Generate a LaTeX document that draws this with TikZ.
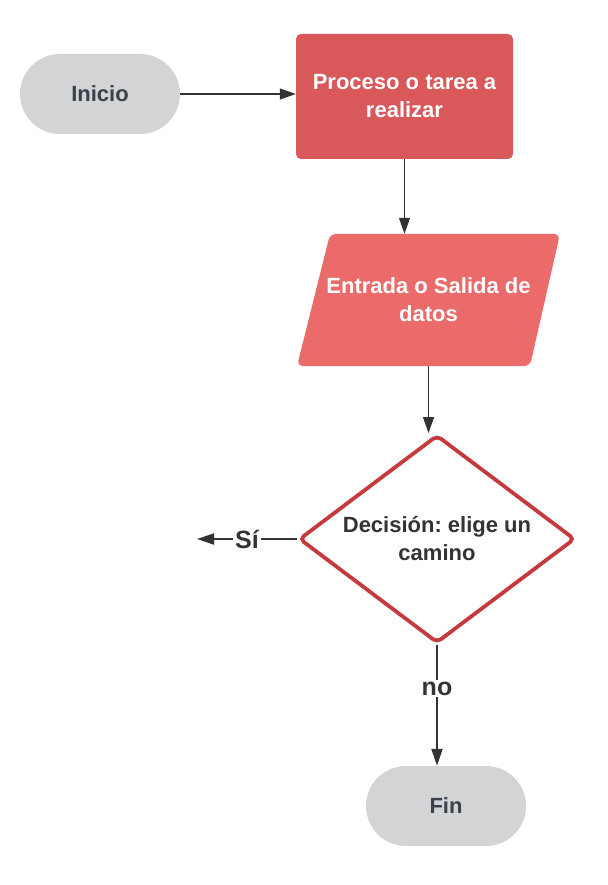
\documentclass[tikz,border=0pt]{standalone}
\usepackage{fontspec}
\setmainfont{Liberation Sans}
\frenchspacing
\usetikzlibrary{shapes.geometric,arrows.meta}
\definecolor{termgray}{HTML}{D3D4D6}
\definecolor{termtext}{HTML}{3A414A}
\definecolor{procred}{HTML}{D9585A}
\definecolor{datared}{HTML}{EB6B6B}
\definecolor{decred}{HTML}{C53B3D}
\definecolor{ink}{HTML}{333333}
\begin{document}
\begin{tikzpicture}[x=1pt,y=-1pt,
  lbl/.style={font=\fontsize{22}{28}\selectfont\bfseries, align=center},
  terminal/.style={lbl, rectangle, rounded corners=40pt, fill=termgray, text=termtext, minimum width=160pt, minimum height=80pt, inner sep=0pt},
  procbox/.style={lbl, rectangle, rounded corners=5pt, fill=procred, text=white, minimum width=217pt, minimum height=125pt, inner sep=0pt},
  databox/.style={lbl, rectangle, text=white, minimum width=263pt, minimum height=132pt, inner sep=0pt,
    path picture={\fill[datared, rounded corners=6pt]
      ([xshift=33pt]path picture bounding box.north west) -- (path picture bounding box.north east)
      -- ([xshift=-30pt]path picture bounding box.south east) -- (path picture bounding box.south west) -- cycle;}},
  decbox/.style={lbl, diamond, draw=decred, line width=3.8pt, rounded corners=5pt, fill=white, text=ink, minimum width=276pt, minimum height=208pt, aspect=1.327, inner sep=0pt},
  thinarrow/.style={draw=ink, line width=1.1pt, -{Triangle[length=16pt,width=11pt]}},
  thickarrow/.style={draw=ink, line width=2pt, -{Triangle[length=17pt,width=11pt]}},
  branch/.style={font=\fontsize{25}{30}\selectfont\bfseries, text=ink, fill=white, inner sep=2pt}
]
\useasboundingbox (0,0) rectangle (607,885);
\node[terminal] (inicio) at (100,94) {Inicio};
\node[procbox] (proc) at (404.5,96.5) {Proceso o tarea a\\realizar};
\node[databox] (para) at (428.5,300) {Entrada o Salida de\\datos};
\node[decbox] (dec) at (437,539) {Decisión: elige un\\camino};
\node[terminal] (fin) at (446,806) {Fin};
\coordinate (siend) at (197,539);

\draw[thinarrow] (inicio.east) -- (proc.west |- inicio.east);
\draw[thinarrow] (proc.south) -- (proc.south |- para.north);
\draw[thinarrow] (para.south) -- (para.south |- dec.north);
\draw[thickarrow] (dec.west) -- node[branch]{Sí} (siend);
\draw[thickarrow] (dec.south) -- node[branch,pos=0.36]{no} (dec.south |- fin.north);
\end{tikzpicture}
\end{document}
